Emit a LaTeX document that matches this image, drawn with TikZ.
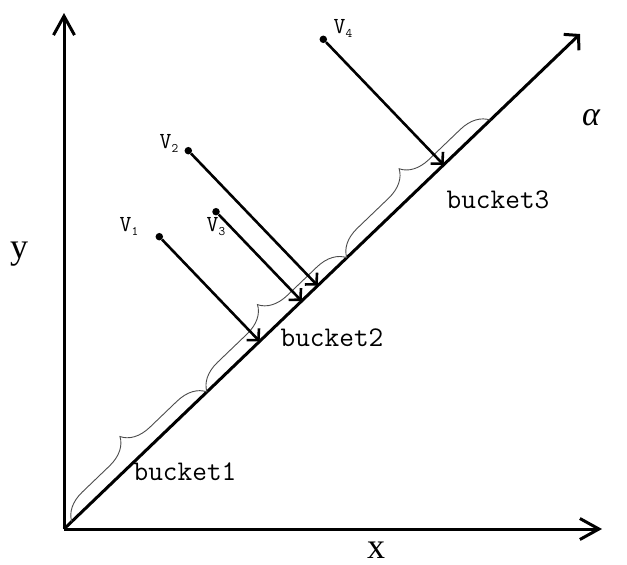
\documentclass[tikz,border=0pt]{standalone}
\usepackage{fontspec}
\setmainfont{Liberation Serif}
\usetikzlibrary{arrows.meta,decorations.pathreplacing,calc}
\newcommand{\vsub}[1]{\raisebox{-4pt}{\fontsize{13}{13}\selectfont #1}}
\begin{document}
\begin{tikzpicture}[x=1pt,y=-1pt,
  axis/.style={line width=3pt,-{Straight Barb[length=19pt,width=21pt]}},
  diag/.style={line width=3pt,-{Straight Barb[length=10pt,width=22pt]}},
  proj/.style={line width=2.6pt,-{Straight Barb[length=8pt,width=17pt]}},
  bucketbrace/.style={draw=black!70,line width=0.9pt,decorate,decoration={brace,amplitude=28pt}},
  dot/.style={circle,fill=black,inner sep=0pt,minimum size=7.5pt},
  vlab/.style={font=\ttfamily\fontsize{23}{23}\selectfont,inner sep=0pt},
  blab/.style={font=\ttfamily\fontsize{28.5}{28.5}\selectfont,inner sep=0pt},
  axlab/.style={font=\fontsize{36}{36}\selectfont,inner sep=0pt}]
\useasboundingbox (0,0) rectangle (627,565);
\coordinate (O) at (64,529);
\coordinate (Y) at (64,13);
\coordinate (X) at (602,529);
\coordinate (D) at (580,34);
\draw[axis] (O) -- (Y);
\draw[axis] (O) -- (X);
\draw[diag] (O) -- (D);
% bucket boundaries
\coordinate (b0) at ($(O)!0.015!(D)$);
\coordinate (b1) at ($(O)!0.277!(D)$);
\coordinate (b2) at ($(O)!0.548!(D)$);
\coordinate (b3) at ($(O)!0.826!(D)$);
\draw[bucketbrace] (b0) -- (b1);
\draw[bucketbrace] (b1) -- (b2);
\draw[bucketbrace] (b2) -- (b3);
% points
\node[dot] (v1) at (159.3,236.7) {};
\node[dot] (v2) at (188.3,150.7) {};
\node[dot] (v3) at (216,211.7) {};
\node[dot] (v4) at (323.3,39.3) {};
\coordinate (p1) at ($(O)!(v1)!(D)$);
\coordinate (p2) at ($(O)!(v2)!(D)$);
\coordinate (p3) at ($(O)!(v3)!(D)$);
\coordinate (p4) at ($(O)!(v4)!(D)$);
\draw[proj] (v1) -- (p1);
\draw[proj] (v2) -- (p2);
\draw[proj] (v3) -- (p3);
\draw[proj] (v4) -- (p4);
\node[vlab] (l1) at (129,226) {V\vsub{1}};
\node[vlab] (l2) at (169,143) {V\vsub{2}};
\node[vlab] (l3) at (216,227) {V\vsub{3}};
\node[vlab] (l4) at (343,28) {V\vsub{4}};
\node[blab] (k1) at (185,472) {bucket1};
\node[blab] (k2) at (332,338) {bucket2};
\node[blab] (k3) at (498,200) {bucket3};
\node[axlab] (xl) at (376,550) {x};
\node[axlab] (yl) at (19,254) {y};
\node[inner sep=0pt,font=\itshape\fontsize{34}{34}\selectfont] (al) at (591,118) {α};
\end{tikzpicture}
\end{document}
